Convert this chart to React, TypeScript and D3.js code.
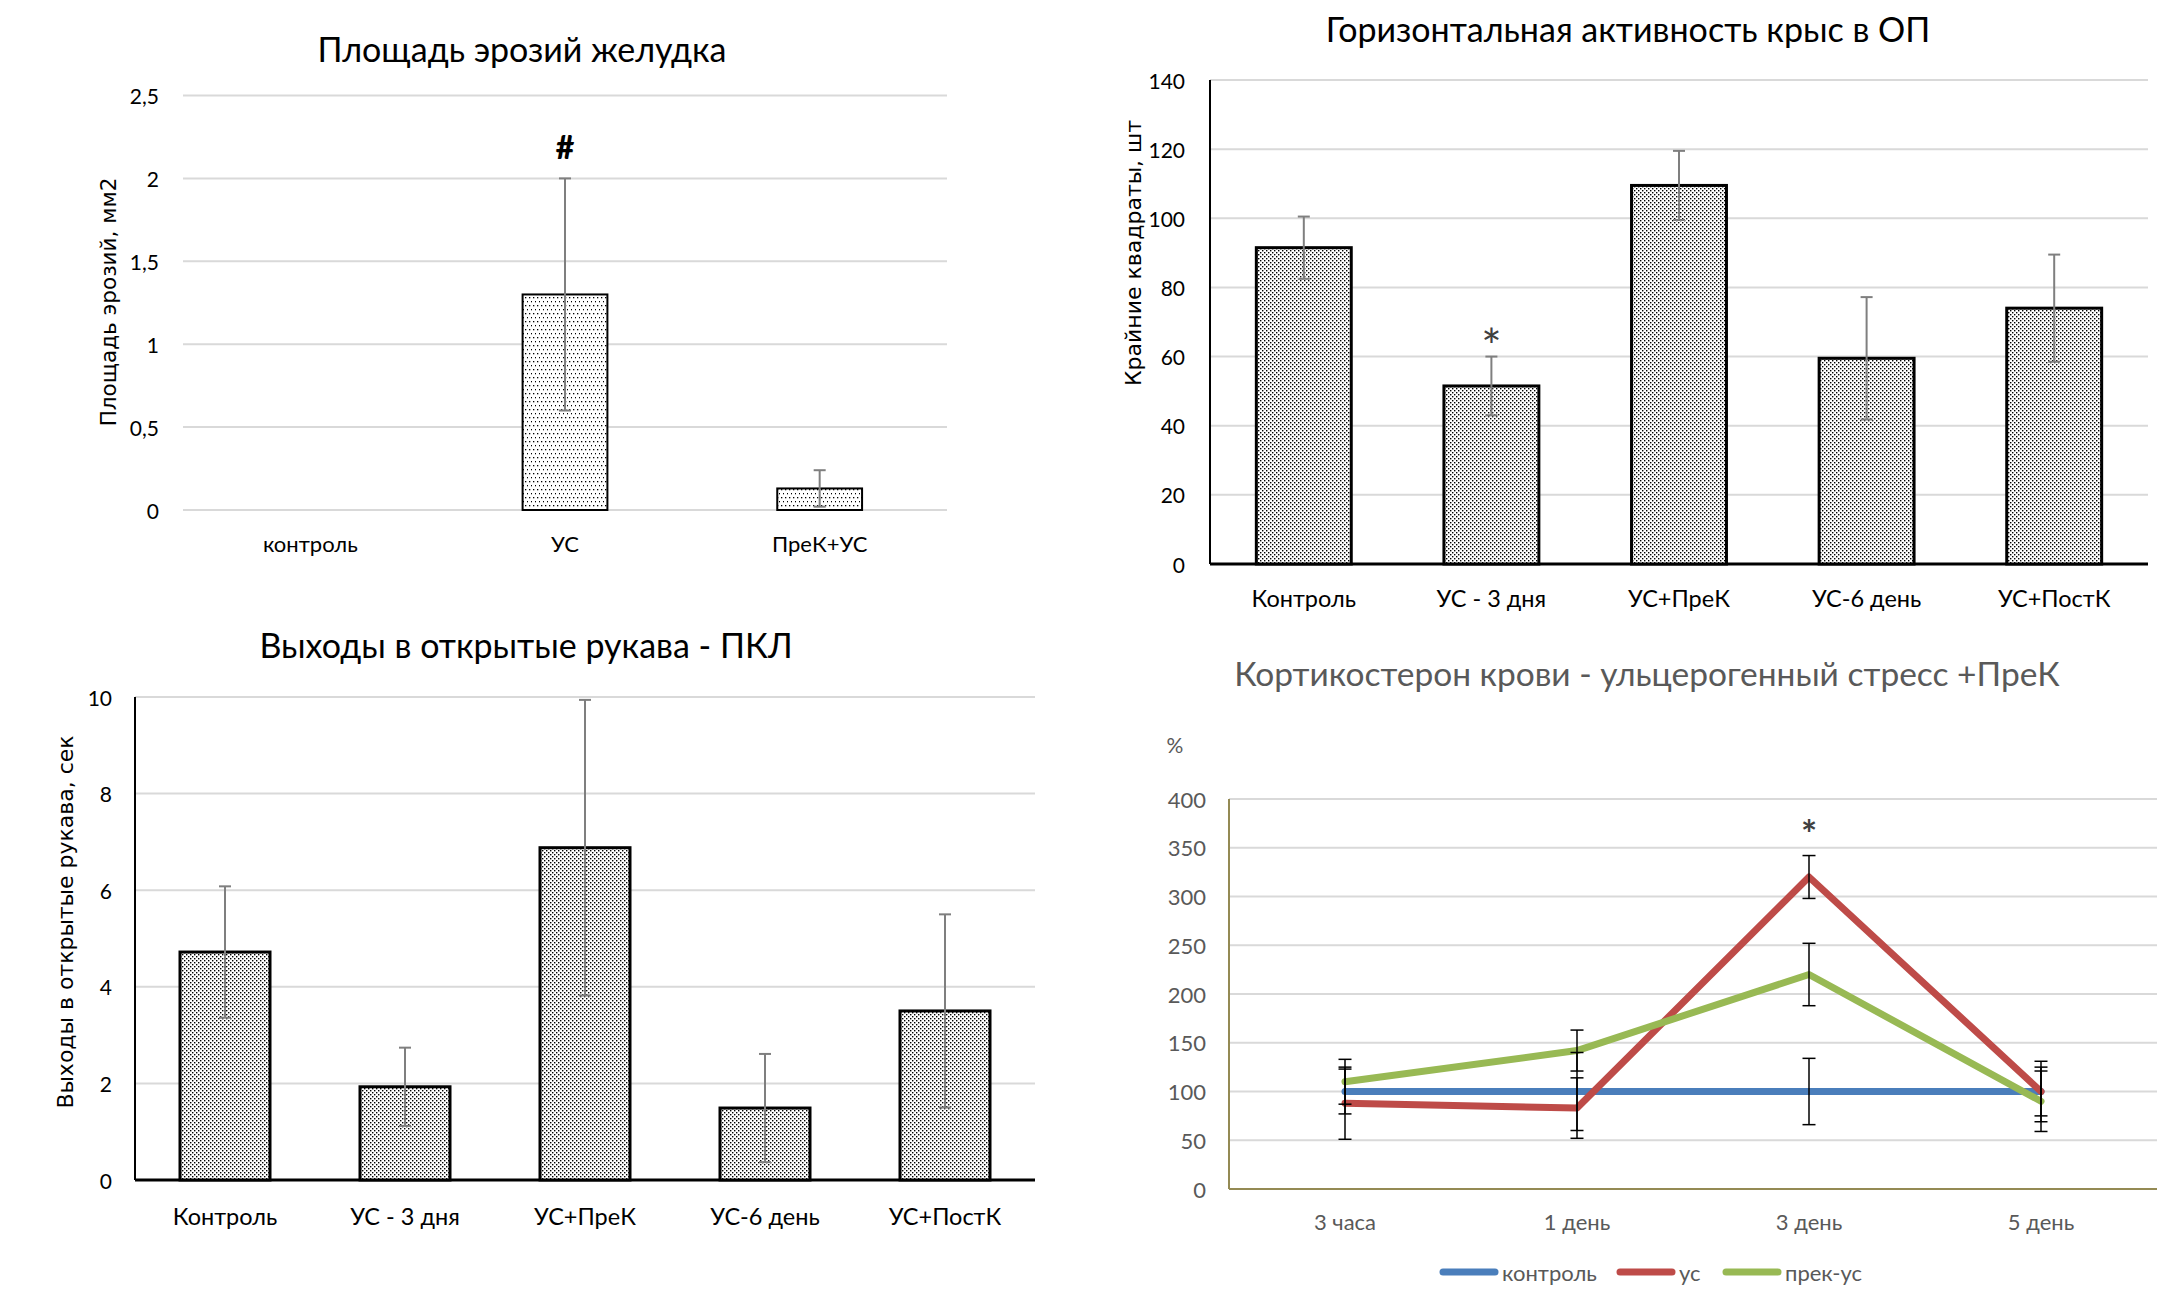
import React from 'react';
import * as d3 from 'd3';

// ---------- data ----------
const erosionCats = ['контроль', 'УС', 'ПреК+УС'];
const erosionVals = [0, 1.3, 0.13];
const erosionErr = [0, 0.7, 0.11];
const erosionTicks = [0, 0.5, 1, 1.5, 2, 2.5];

const groupCats = ['Контроль', 'УС - 3 дня', 'УС+ПреК', 'УС-6 день', 'УС+ПостК'];
const activityVals = [91.5, 51.5, 109.5, 59.5, 74];
const activityErr = [9, 8.5, 10, 17.7, 15.5];
const activityTicks = [0, 20, 40, 60, 80, 100, 120, 140];

const exitsVals = [4.72, 1.93, 6.88, 1.49, 3.5];
const exitsErr = [1.36, 0.81, 3.06, 1.12, 2.0];
const exitsTicks = [0, 2, 4, 6, 8, 10];

const timeCats = ['3 часа', '1 день', '3 день', '5 день'];
const seriesNames = ['контроль', 'ус', 'прек-ус'];
const controlVals = [100, 100, 100, 100];
const controlErr = [23, 40, 34, 25];
const usVals = [88, 83, 320, 100];
const usErr = [37, 31, 22, 31];
const prekVals = [110, 142, 220, 90];
const prekErr = [23, 21, 32, 31];
const corticoTicks = [0, 50, 100, 150, 200, 250, 300, 350, 400];

const F = "Lato, 'Open Sans', sans-serif";
const YF = "'DejaVu Sans', Verdana, sans-serif";
const comma = (v: number) => String(v).replace('.', ',');

type BarProps = {
  cats: string[]; vals: number[]; errs: number[]; ticks: number[];
  x0: number; x1: number; yTop: number; yBot: number; yMax: number;
  barRatio: number; pattern: string; axes: boolean; borderW: number;
  title: string; titleX: number; titleY: number; titleSize: number;
  yLabel: string; yLabelX: number; yLabelY: number; yLabelSize: number;
  tickRight: number; catY: number; catSize: number; tickSize: number;
  fmt: (v: number) => string;
  mark?: { idx: number; text: string; y: number; size: number; weight: number; color: string };
};

function BarPanel(p: BarProps) {
  const x = d3.scaleBand<string>().domain(p.cats).range([p.x0, p.x1]).padding(0);
  const y = d3.scaleLinear().domain([0, p.yMax]).range([p.yBot, p.yTop]);
  const bw = x.bandwidth() * p.barRatio;
  return (
    <g>
      <text x={p.titleX} y={p.titleY} textAnchor="middle" dominantBaseline="central"
        fontFamily={F} fontSize={p.titleSize} fill="#000">{p.title}</text>
      {p.ticks.map((t) => (
        <g key={t}>
          <line x1={p.x0} x2={p.x1} y1={y(t)} y2={y(t)} stroke="#d9d9d9" strokeWidth={2} />
          <text x={p.tickRight} y={y(t)} textAnchor="end" dominantBaseline="central"
            fontFamily={F} fontSize={p.tickSize} fill="#000">{p.fmt(t)}</text>
        </g>
      ))}
      {p.axes && (
        <g>
          <line x1={p.x0} x2={p.x0} y1={p.yTop} y2={p.yBot} stroke="#000" strokeWidth={2} />
          <line x1={p.x0} x2={p.x1} y1={p.yBot} y2={p.yBot} stroke="#000" strokeWidth={3} />
        </g>
      )}
      {p.cats.map((c, i) => {
        const cx = (x(c) as number) + x.bandwidth() / 2;
        const v = p.vals[i];
        const e = p.errs[i];
        return (
          <g key={c}>
            {v > 0 && (
              <rect x={cx - bw / 2} y={y(v)} width={bw} height={y(0) - y(v)}
                fill={`url(#${p.pattern})`} stroke="#000" strokeWidth={p.borderW} />
            )}
            {e > 0 && (
              <g stroke="#7f7f7f" strokeWidth={2}>
                <line x1={cx} x2={cx} y1={y(v + e)} y2={y(v - e)} />
                <line x1={cx - 6} x2={cx + 6} y1={y(v + e)} y2={y(v + e)} />
                <line x1={cx - 6} x2={cx + 6} y1={y(v - e)} y2={y(v - e)} />
              </g>
            )}
            <text x={cx} y={p.catY} textAnchor="middle" dominantBaseline="central"
              fontFamily={F} fontSize={p.catSize} fill="#000">{c}</text>
          </g>
        );
      })}
      {p.mark && (
        <text x={(x(p.cats[p.mark.idx]) as number) + x.bandwidth() / 2} y={p.mark.y}
          textAnchor="middle" dominantBaseline="central" fontFamily={F}
          fontSize={p.mark.size} fontWeight={p.mark.weight} fill={p.mark.color}>{p.mark.text}</text>
      )}
      <text transform={`translate(${p.yLabelX},${p.yLabelY}) rotate(-90)`} textAnchor="middle"
        dominantBaseline="central" fontFamily={YF} fontSize={p.yLabelSize} fill="#000">{p.yLabel}</text>
    </g>
  );
}

function LinePanel() {
  const x0 = 1229, x1 = 2157, yTop = 799, yBot = 1189;
  const x = d3.scalePoint<string>().domain(timeCats).range([x0, x1]).padding(0.5);
  const y = d3.scaleLinear().domain([0, 400]).range([yBot, yTop]);
  const series = [
    { name: seriesNames[0], vals: controlVals, errs: controlErr, color: '#4A7EBB' },
    { name: seriesNames[1], vals: usVals, errs: usErr, color: '#BE4B48' },
    { name: seriesNames[2], vals: prekVals, errs: prekErr, color: '#98B954' },
  ];
  const line = d3.line<number>().x((_, i) => x(timeCats[i]) as number).y((d) => y(d));
  const legendX = [1443, 1620, 1726];
  const grey = '#595959';
  return (
    <g>
      <text x={1647} y={673} textAnchor="middle" dominantBaseline="central" fontFamily={F}
        fontSize={33.5} fill={grey}>Кортикостерон крови - ульцерогенный стресс +ПреК</text>
      <text x={1175} y={744} textAnchor="middle" dominantBaseline="central" fontFamily={F}
        fontSize={21} fill={grey}>%</text>
      {corticoTicks.map((t) => (
        <g key={t}>
          {t > 0 && <line x1={x0} x2={x1} y1={y(t)} y2={y(t)} stroke="#d9d9d9" strokeWidth={2} />}
          <text x={1206} y={y(t)} textAnchor="end" dominantBaseline="central" fontFamily={F}
            fontSize={22} fill={grey}>{t}</text>
        </g>
      ))}
      <line x1={x0} x2={x0} y1={yTop} y2={yBot} stroke="#948A54" strokeWidth={2} />
      <line x1={x0} x2={x1} y1={yBot} y2={yBot} stroke="#948A54" strokeWidth={2} />
      {timeCats.map((c) => (
        <text key={c} x={x(c) as number} y={1221} textAnchor="middle" dominantBaseline="central"
          fontFamily={F} fontSize={22} fill={grey}>{c}</text>
      ))}
      {series.map((s) => (
        <path key={s.name} d={line(s.vals) as string} fill="none" stroke={s.color}
          strokeWidth={7} strokeLinecap="round" strokeLinejoin="round" />
      ))}
      {series.map((s) => (
        <g key={s.name + 'e'} stroke="#000" strokeWidth={1.5}>
          {s.vals.map((v, i) => {
            const cx = x(timeCats[i]) as number;
            const e = s.errs[i];
            return (
              <g key={i}>
                <line x1={cx} x2={cx} y1={y(v + e)} y2={y(v - e)} />
                <line x1={cx - 6.5} x2={cx + 6.5} y1={y(v + e)} y2={y(v + e)} />
                <line x1={cx - 6.5} x2={cx + 6.5} y1={y(v - e)} y2={y(v - e)} />
              </g>
            );
          })}
        </g>
      ))}
      <text x={x(timeCats[2]) as number} y={833} textAnchor="middle" dominantBaseline="central"
        fontFamily={F} fontSize={38} fontWeight={700} fill="#404040">*</text>
      {series.map((s, i) => (
        <g key={s.name + 'l'}>
          <line x1={legendX[i]} x2={legendX[i] + 52} y1={1272} y2={1272} stroke={s.color}
            strokeWidth={7} strokeLinecap="round" />
          <text x={legendX[i] + 59} y={1272} dominantBaseline="central" fontFamily={F}
            fontSize={22} fill={grey}>{s.name}</text>
        </g>
      ))}
    </g>
  );
}

export default function App() {
  return (
    <svg width={2183} height={1291} style={{ position: 'absolute', left: 0, top: 0, background: '#fff' }}>
      <defs>
        <pattern id="sparse" width={4} height={8} patternUnits="userSpaceOnUse">
          <rect width={4} height={8} fill="#fff" />
          <rect x={1} y={1} width={1.3} height={1.3} fill="#000" />
          <rect x={3} y={5} width={1.3} height={1.3} fill="#000" />
        </pattern>
        <pattern id="dense" width={4} height={4} patternUnits="userSpaceOnUse">
          <rect width={4} height={4} fill="#fff" />
          <rect x={0} y={0} width={1.4} height={1.4} fill="#000" />
          <rect x={2} y={2} width={1.4} height={1.4} fill="#000" />
        </pattern>
      </defs>
      <rect width={2183} height={1291} fill="#fff" />
      <BarPanel cats={erosionCats} vals={erosionVals} errs={erosionErr} ticks={erosionTicks}
        x0={183} x1={947} yTop={95.5} yBot={510} yMax={2.5} barRatio={0.333} pattern="sparse"
        axes={false} borderW={2} title="Площадь эрозий желудка" titleX={522} titleY={48} titleSize={34}
        yLabel="Площадь эрозий, мм2" yLabelX={108} yLabelY={302} yLabelSize={21.5} tickRight={159} catY={543}
        catSize={22} tickSize={21} fmt={comma}
        mark={{ idx: 1, text: '#', y: 146, size: 32, weight: 900, color: '#000' }} />
      <BarPanel cats={groupCats} vals={activityVals} errs={activityErr} ticks={activityTicks}
        x0={1210} x1={2148} yTop={80} yBot={564} yMax={140} barRatio={0.506} pattern="dense"
        axes={true} borderW={3} title="Горизонтальная активность крыс в ОП" titleX={1628} titleY={28}
        titleSize={34} yLabel="Крайние квадраты, шт" yLabelX={1133} yLabelY={253} yLabelSize={22} tickRight={1185}
        catY={598} catSize={23.5} tickSize={21} fmt={(v) => String(v)}
        mark={{ idx: 1, text: '*', y: 345, size: 48, weight: 400, color: '#404040' }} />
      <BarPanel cats={groupCats} vals={exitsVals} errs={exitsErr} ticks={exitsTicks}
        x0={135} x1={1035} yTop={697} yBot={1180} yMax={10} barRatio={0.5} pattern="dense"
        axes={true} borderW={3} title="Выходы в открытые рукава - ПКЛ" titleX={526} titleY={644}
        titleSize={34} yLabel="Выходы в открытые рукава, сек" yLabelX={65} yLabelY={922} yLabelSize={22}
        tickRight={112} catY={1216} catSize={23.5} tickSize={21} fmt={(v) => String(v)} />
      <LinePanel />
    </svg>
  );
}
